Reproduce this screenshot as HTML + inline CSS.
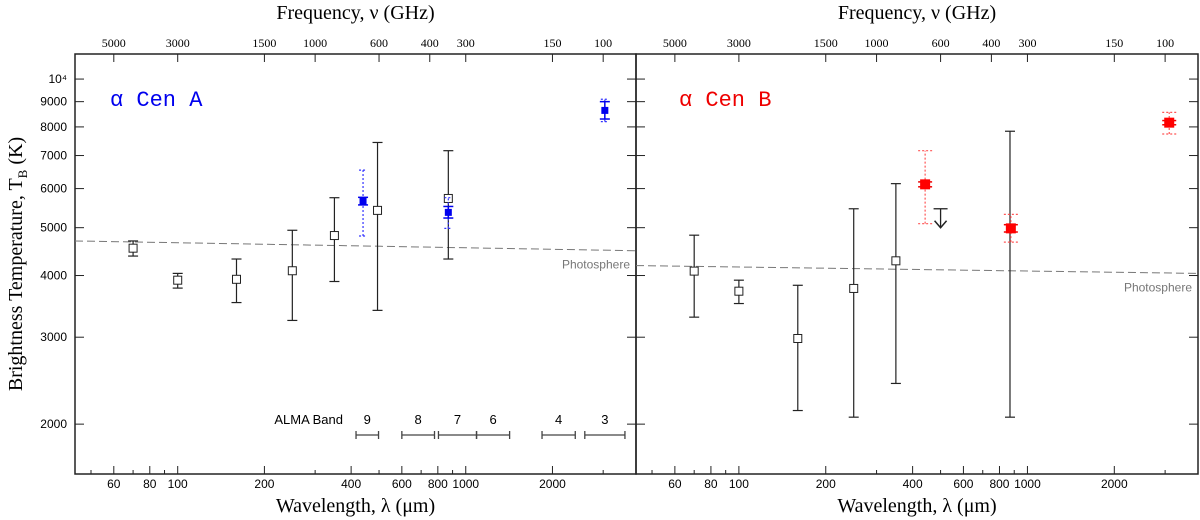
<!DOCTYPE html>
<html><head><meta charset="utf-8"><style>
body{margin:0;background:#fff;width:1200px;height:520px;overflow:hidden}
svg{display:block}
.ser{font-family:"Liberation Serif",serif}
.san{font-family:"Liberation Sans",sans-serif}
.mon{font-family:"Liberation Mono",monospace}
</style></head><body>
<svg id="chart" width="1200" height="520" viewBox="0 0 1200 520" xmlns="http://www.w3.org/2000/svg"></svg>
<script>
// ---- data ----
const wlTicksMajor = [60, 80, 100, 200, 400, 600, 800, 1000, 2000];
const wlTicksMinor = [50, 70, 90, 300, 500, 700, 900, 3000];
const freqTicks = [5000, 3000, 1500, 1000, 600, 400, 300, 150, 100];
const tempTicks = [2000, 3000, 4000, 5000, 6000, 7000, 8000, 9000, 10000];
const tempTickLabels = ["2000","3000","4000","5000","6000","7000","8000","9000","10⁴"];

const aWl = [70, 100, 160, 250, 350, 494, 870];
const aT = [4544, 3914, 3930, 4090, 4820, 5420, 5730];
const aLo = [4380, 3772, 3526, 3244, 3890, 3400, 4320];
const aHi = [4700, 4040, 4320, 4940, 5750, 7440, 7160];
const aAlmaWl = [440, 870, 3040];
const aAlmaT = [5660, 5370, 8640];
const aAlmaLo = [5560, 5230, 8300];
const aAlmaHi = [5760, 5520, 9000];
const aAlmaSysLo = [4810, 4984, 8200];
const aAlmaSysHi = [6540, 5750, 9100];

const bWl = [70, 100, 160, 250, 350, 870];
const bT = [4083, 3718, 2982, 3766, 4284, null];
const bLo = [3294, 3510, 2131, 2066, 2418, 2066];
const bHi = [4828, 3914, 3822, 5461, 6140, 7840];
const bLimWl = [500];
const bLimT = [5461];
const bAlmaWl = [442, 876, 3100];
const bAlmaT = [6120, 4984, 8160];
const bAlmaLo = [6050, 4900, 8080];
const bAlmaHi = [6190, 5070, 8240];
const bAlmaSysLo = [5094, 4674, 7740];
const bAlmaSysHi = [7160, 5320, 8560];

const photoA = [4700, 4490];
const photoB = [4190, 4040];

const bandNames = ["9", "8", "7", "6", "4", "3"];
const bandLo = [416, 600, 804, 1090, 1840, 2590];
const bandHi = [498, 779, 1090, 1420, 2400, 3570];

// ---- scales ----
const NS = "http://www.w3.org/2000/svg";
const svg = document.getElementById('chart');
const Y0 = 54, Y1 = 474;
const WLMIN = 44, WLMAX = 3900;
const TMIN = 1585, TMAX = 11240;
function yS(t){ return Y1 - (Math.log10(t) - Math.log10(TMIN)) / (Math.log10(TMAX) - Math.log10(TMIN)) * (Y1 - Y0); }
function mkX(x0, x1){ return w => x0 + (Math.log10(w) - Math.log10(WLMIN)) / (Math.log10(WLMAX) - Math.log10(WLMIN)) * (x1 - x0); }

function el(tag, attrs, parent){
  const e = document.createElementNS(NS, tag);
  for (const k in attrs) e.setAttribute(k, attrs[k]);
  (parent || svg).appendChild(e);
  return e;
}
function line(x1,y1,x2,y2,st,w,g,dash){
  const l = el('line',{x1,y1,x2,y2,stroke:st,'stroke-width':w||1},g);
  if(dash) l.setAttribute('stroke-dasharray',dash);
  return l;
}
function txt(x,y,s,cls,size,anchor,fill,g){
  const t = el('text',{x,y,'font-size':size,'text-anchor':anchor||'middle',fill:fill||'#000',class:cls},g);
  t.textContent = s;
  return t;
}

function panel(name, x0, x1, showYLabels){
  const xS = mkX(x0, x1);
  const g = el('g',{});
  
  
  const fr = el('rect',{x:x0,y:Y0,width:x1-x0,height:Y1-Y0,fill:'none',stroke:'#222','stroke-width':1.5},g);
  
  
  wlTicksMajor.forEach(w=>{
    const x = xS(w);
    line(x,Y1,x,Y1-8,'#222',1,g);
    const t = txt(x,488,String(w),'san',12,'middle','#000',g);
    
    
  });
  wlTicksMinor.forEach(w=>{ const x = xS(w); line(x,Y1,x,Y1-4,'#222',1,g); });
  freqTicks.forEach(f=>{
    const x = xS(3e5/f);
    line(x,Y0,x,Y0+8,'#222',1,g);
    const t = txt(x,47,String(f),'ser',12,'middle','#000',g);
    
    
  });
  tempTicks.forEach((T,i)=>{
    const y = yS(T);
    line(x0,y,x0+9,y,'#222',1,g);
    line(x1,y,x1-9,y,'#222',1,g);
    if(showYLabels){
      const t = txt(67,y+4,tempTickLabels[i],'san',12,'end','#000',g);
      
      
    }
  });
  const ft = txt((x0+x1)/2,19,'Frequency, ν (GHz)','ser',20,'middle','#000',g);
  
  
  const wt = txt((x0+x1)/2,512,'Wavelength, λ (μm)','ser',20,'middle','#000',g);
  
  
  return {g, xS};
}

function errbar(g, x, lo, hi, color, w, cap, dash){
  line(x,yS(lo),x,yS(hi),color,w,g,dash);
  line(x-cap,yS(lo),x+cap,yS(lo),color,w,g,dash);
  line(x-cap,yS(hi),x+cap,yS(hi),color,w,g,dash);
}
function openSq(g,x,y){
  const r = el('rect',{x:x-4,y:y-4,width:8,height:8,fill:'#fff',stroke:'#222','stroke-width':1},g);
  
  
}
function photo(g, x0, x1, T){
  const l = line(x0,yS(T[0]),x1,yS(T[1]),'#777',1,g,'8,4');
  
  
  const t = txt(x1-6,yS(T[1])+18,'Photosphere','san',12,'end','#777',g);
  
  
}

const A = panel('panel-alpha-cen-a', 75, 636, true);
photo(A.g, 75, 636, photoA);
aWl.forEach((w,i)=>{
  const x = A.xS(w);
  errbar(A.g,x,aLo[i],aHi[i],'#222',1.2,5);
  openSq(A.g,x,yS(aT[i]));
});
aAlmaWl.forEach((w,i)=>{
  const x = A.xS(w);
  errbar(A.g,x,aAlmaSysLo[i],aAlmaSysHi[i],'#33f',1.2,4,'2,2');
  errbar(A.g,x,aAlmaLo[i],aAlmaHi[i],'#00e',1.5,5);
  const r = el('rect',{x:x-3.5,y:yS(aAlmaT[i])-3.5,width:7,height:7,fill:'#00e'},A.g);
  
  
});
const la = txt(110,106,'α Cen A','mon',22,'start','#00e',A.g);


const lab = txt(343,424,'ALMA Band','san',13,'end','#000',A.g);


bandNames.forEach((b,i)=>{
  const xa = A.xS(bandLo[i]), xb = A.xS(bandHi[i]);
  const yy = 435;
  line(xa,yy,xb,yy,'#444',1.3,A.g);
  line(xa,yy-4,xa,yy+4,'#444',1.3,A.g);
  line(xb,yy-4,xb,yy+4,'#444',1.3,A.g);
  const t = txt((xa+xb)/2,424,b,'san',13,'middle','#000',A.g);
  
  
});

const B = panel('panel-alpha-cen-b', 636, 1198, false);
photo(B.g, 636, 1198, photoB);
bWl.forEach((w,i)=>{
  const x = B.xS(w);
  errbar(B.g,x,bLo[i],bHi[i],'#222',1.2,5);
  if(bT[i] !== null) openSq(B.g,x,yS(bT[i]));
});
bLimWl.forEach((w,i)=>{
  const x = B.xS(w), y = yS(bLimT[i]);
  line(x-7,y,x+7,y,'#222',1.3,B.g);
  line(x,y,x,y+19,'#222',1.3,B.g);
  const p = el('polyline',{points:`${x-6},${y+12} ${x},${y+19} ${x+6},${y+12}`,fill:'none',stroke:'#222','stroke-width':1.5},B.g);
  
  
});
bAlmaWl.forEach((w,i)=>{
  const x = B.xS(w);
  errbar(B.g,x,bAlmaSysLo[i],bAlmaSysHi[i],'#f55',1.2,7,'2,2');
  errbar(B.g,x,bAlmaLo[i],bAlmaHi[i],'#e00',1.5,7);
  const r = el('rect',{x:x-5,y:yS(bAlmaT[i])-5,width:10,height:10,fill:'#f00'},B.g);
  
  
});
const lb = txt(679,106,'α Cen B','mon',22,'start','#e00',B.g);



const yt = el('text',{x:0,y:0,'font-size':20,'text-anchor':'middle',class:'ser',fill:'#000',transform:'translate(22,264) rotate(-90)'});


yt.innerHTML = 'Brightness Temperature, T<tspan font-size="13" dy="5">B</tspan><tspan dy="-5"> (K)</tspan>';
</script>
</body></html>
